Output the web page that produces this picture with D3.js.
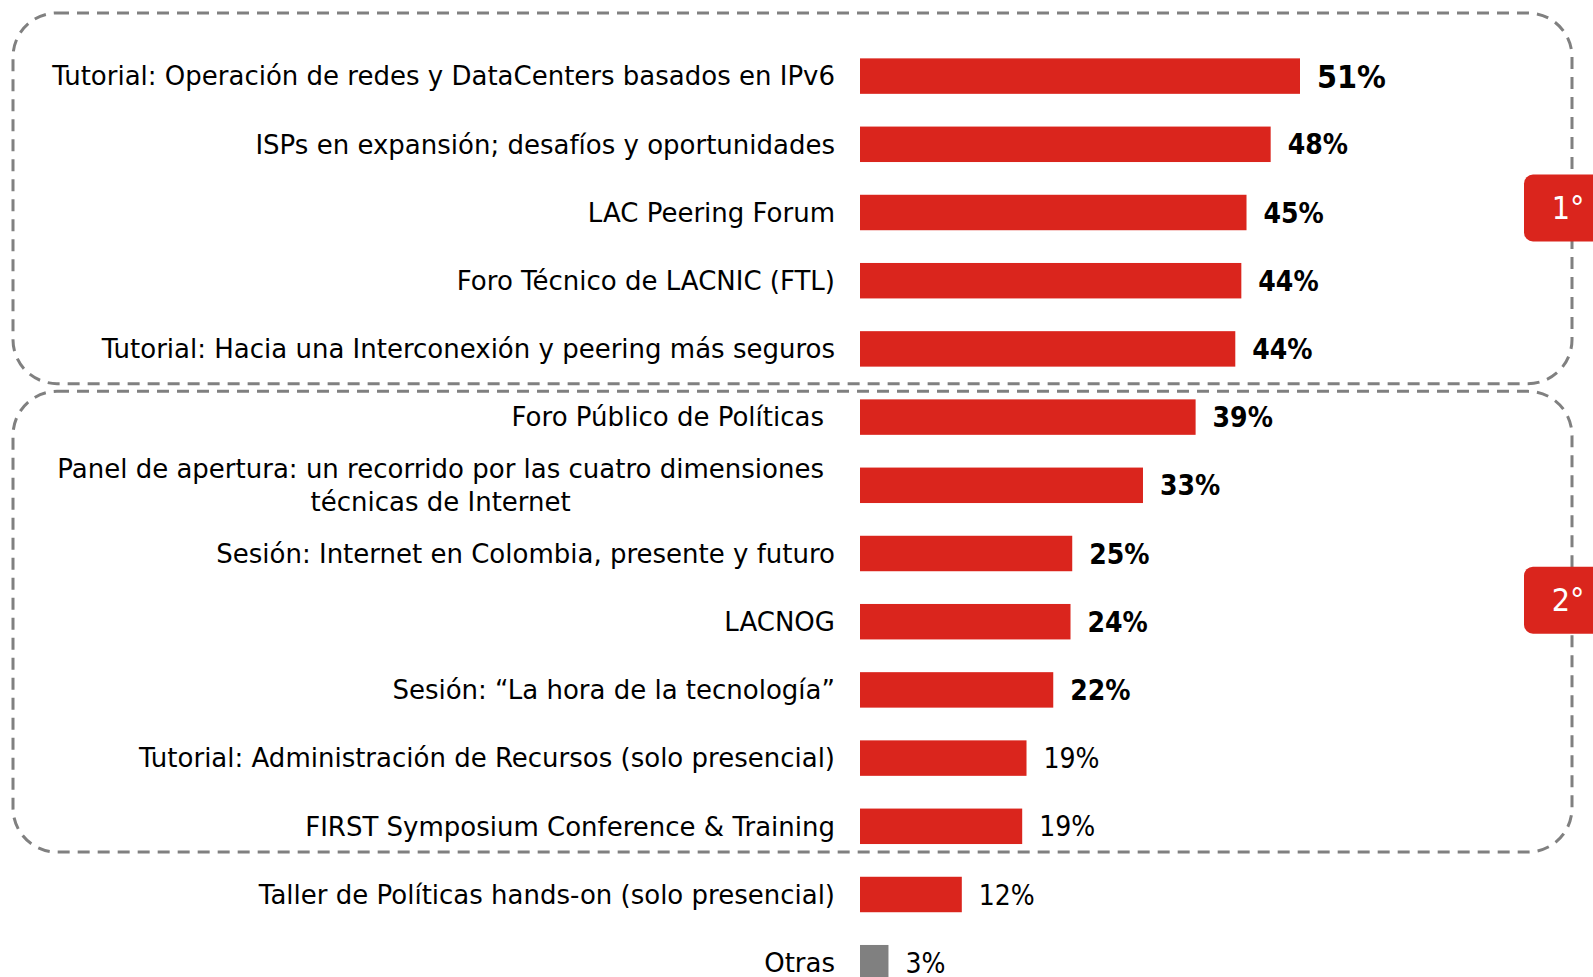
<!DOCTYPE html>
<html>
<head>
<meta charset="utf-8">
<script src="https://cdn.jsdelivr.net/npm/d3@7"></script>
<style>
  body { margin: 0; background: #fff; }
  svg { display: block; }
  .lbl { font-family: "DejaVu Sans", sans-serif; font-size: 26px; fill: #000; }
  .val { font-family: "DejaVu Sans Condensed", "DejaVu Sans", sans-serif; fill: #000; }
</style>
</head>
<body>
<svg id="chart" width="1593" height="977"></svg>
<script>
// categories, top to bottom
const categories = [
  "Tutorial: Operación de redes y DataCenters basados en IPv6",
  "ISPs en expansión; desafíos y oportunidades",
  "LAC Peering Forum",
  "Foro Técnico de LACNIC (FTL)",
  "Tutorial: Hacia una Interconexión y peering más seguros",
  "Foro Público de Políticas",
  "Panel de apertura: un recorrido por las cuatro dimensiones|técnicas de Internet",
  "Sesión: Internet en Colombia, presente y futuro",
  "LACNOG",
  "Sesión: “La hora de la tecnología”",
  "Tutorial: Administración de Recursos (solo presencial)",
  "FIRST Symposium Conference & Training",
  "Taller de Políticas hands-on (solo presencial)",
  "Otras"
]
// share of answers (%)
const values = [51, 47.6, 44.8, 44.2, 43.5, 38.9, 32.8, 24.6, 24.4, 22.4, 19.3, 18.8, 11.8, 3.3]
const valueLabels = ["51%", "48%", "45%", "44%", "44%", "39%", "33%", "25%", "24%", "22%", "19%", "19%", "12%", "3%"]
// groups (first/second place) by index range
const groups = [
  { name: "1°", from: 0, to: 4 },
  { name: "2°", from: 5, to: 11 }
]

const red = "#da251d"
const grey = "#808080"

const svg = d3.select("#chart")

const x = d3.scaleLinear().domain([0, 51]).range([860, 1300])
const y = d3.scaleBand().domain(d3.range(categories.length))
  .range([42, 42 + 68.2 * categories.length])
  .paddingInner(0.48).paddingOuter(0.24)

// dashed group boxes
const boxes = svg.append("g")
groups.forEach(function (g, i) {
  var top = i == 0 ? 13 : y(g.from) - 8
  var bottom = i == 0 ? y(g.to) + y.bandwidth() + 17 : y(g.to) + y.bandwidth() + 8
  boxes.append("rect")
    .attr("x", 13).attr("y", top)
    .attr("width", 1559).attr("height", bottom - top)
    .attr("rx", 44).attr("ry", 44)
    .attr("fill", "none")
    .attr("stroke", grey)
    .attr("stroke-width", 3)
    .attr("stroke-dasharray", "12,8")
})

// bars
svg.append("g").selectAll("rect")
  .data(values)
  .enter().append("rect")
  .attr("x", x(0))
  .attr("y", (d, i) => y(i))
  .attr("width", d => x(d) - x(0))
  .attr("height", y.bandwidth())
  .attr("fill", (d, i) => categories[i] == "Otras" ? grey : red)

// value labels
svg.append("g").selectAll("text")
  .data(values)
  .enter().append("text")
  .attr("class", "val")
  .attr("x", d => x(d) + 17)
  .attr("y", (d, i) => y(i) + y.bandwidth() / 2)
  .attr("dy", "0.36em")
  .attr("font-size", (d, i) => i == 0 ? 32 : 28)
  .attr("font-weight", d => d >= 20 ? "bold" : "normal")
  .text((d, i) => valueLabels[i])

// category labels (the two first ones of 2nd group sit a bit more to the left)
const lbl = svg.append("g")
categories.forEach(function (c, i) {
  var cy = y(i) + y.bandwidth() / 2
  var right = (i == 5 || i == 6) ? 824 : 835
  var lines = c.split("|")
  if (lines.length == 1) {
    lbl.append("text").attr("class", "lbl")
      .attr("x", right).attr("y", cy).attr("dy", "0.36em")
      .attr("text-anchor", "end")
      .text(c)
  } else {
    var t1 = lbl.append("text").attr("class", "lbl")
      .attr("x", right).attr("y", cy - 17).attr("dy", "0.36em")
      .attr("text-anchor", "end")
      .text(lines[0])
    var w = t1.node().getComputedTextLength()
    lbl.append("text").attr("class", "lbl")
      .attr("x", right - w / 2).attr("y", cy + 16).attr("dy", "0.36em")
      .attr("text-anchor", "middle")
      .text(lines[1])
  }
})

// group badges on the right edge
const badges = svg.append("g")
groups.forEach(function (g, i) {
  var mid = i == 0 ? y(2) + y.bandwidth() / 2 - 5 : y(8) + y.bandwidth() / 2 - 22
  badges.append("rect")
    .attr("x", 1524).attr("y", mid - 33)
    .attr("width", 90).attr("height", 67)
    .attr("rx", 9).attr("fill", red)
  badges.append("text")
    .attr("x", 1568).attr("y", mid).attr("dy", "0.36em")
    .attr("text-anchor", "middle")
    .attr("font-family", "'DejaVu Sans Condensed', sans-serif")
    .attr("font-size", 32).attr("fill", "#fff")
    .text(g.name)
})
</script>
</body>
</html>
